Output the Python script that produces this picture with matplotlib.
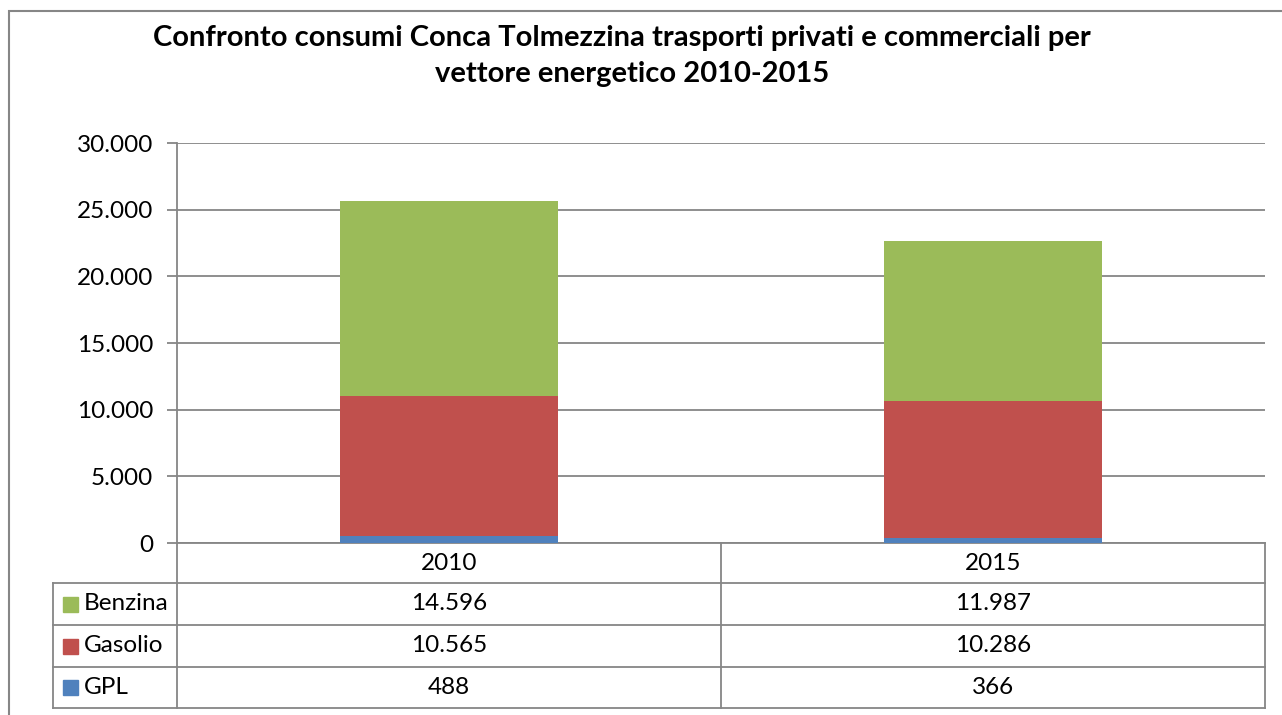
import matplotlib
matplotlib.use("Agg")
import matplotlib.pyplot as plt
from matplotlib.ticker import FuncFormatter
from matplotlib.transforms import blended_transform_factory
from matplotlib.patches import Rectangle

plt.rcParams['font.family'] = ['Lato', 'DejaVu Sans']

# data
years = ["2010", "2015"]
series = ["Benzina", "Gasolio", "GPL"]
gpl = [488, 366]
gasolio = [10565, 10286]
benzina = [14596, 11987]
colors = {"Benzina": "#9BBB59", "Gasolio": "#C0504D", "GPL": "#4F81BD"}
values = {"Benzina": benzina, "Gasolio": gasolio, "GPL": gpl}

W, H = 1282, 715
fig = plt.figure(figsize=(W / 100, H / 100), dpi=100)


def fx(x):
    return x / W


def fy(y):
    return 1 - y / H


# plot area in pixels
left, top, right, bottom = 177, 143, 1265, 543
ax = fig.add_axes([fx(left), fy(bottom), fx(right) - fx(left), fy(top) - fy(bottom)])

gridc = "#868686"
fs = 17.5
x = range(len(years))
ax.bar(x, gpl, width=0.4, color=colors["GPL"], zorder=3)
ax.bar(x, gasolio, width=0.4, bottom=gpl, color=colors["Gasolio"], zorder=3)
ax.bar(x, benzina, width=0.4, bottom=[a + b for a, b in zip(gpl, gasolio)],
       color=colors["Benzina"], zorder=3)

ax.set_xlim(-0.5, len(years) - 0.5)
ax.set_ylim(0, 30000)
ax.set_yticks(range(0, 30001, 5000))
ax.yaxis.set_major_formatter(FuncFormatter(lambda v, p: f"{int(v):,}".replace(",", ".")))
ax.set_xticks([])
ax.grid(axis="y", color=gridc, linewidth=1.3, zorder=0)
for s in ["top", "right"]:
    ax.spines[s].set_visible(False)
ax.spines["left"].set_color(gridc)
ax.spines["left"].set_linewidth(1.3)
ax.spines["bottom"].set_color(gridc)
ax.spines["bottom"].set_linewidth(1.3)
ax.tick_params(axis="y", length=7, width=1.3, color=gridc, labelsize=fs, pad=10)

# data table below the axes
tr = blended_transform_factory(ax.transData, fig.transFigure)
rows_y = [543, 583, 625, 667, 708]
lw = 1.3
for yy in rows_y[1:]:
    fig.add_artist(plt.Line2D([fx(53), fx(right)], [fy(yy), fy(yy)], color=gridc, lw=lw))
fig.add_artist(plt.Line2D([fx(53), fx(53)], [fy(583), fy(708)], color=gridc, lw=lw))
fig.add_artist(plt.Line2D([fx(left), fx(left)], [fy(543), fy(708)], color=gridc, lw=lw))
for xv in [0.5, len(years) - 0.5]:
    fig.add_artist(plt.Line2D([xv, xv], [fy(543), fy(708)], color=gridc, lw=lw, transform=tr))

for i, yr in enumerate(years):
    fig.text(i, fy((543 + 583) / 2), yr, transform=tr, ha="center", va="center", fontsize=fs)

for r, name in enumerate(series):
    yc = (rows_y[r + 1] + rows_y[r + 2]) / 2
    fig.add_artist(Rectangle((fx(63), fy(yc + 7.5)), fx(15), 15 / H, color=colors[name]))
    fig.text(fx(84), fy(yc), name, ha="left", va="center", fontsize=fs)
    for i in range(len(years)):
        fig.text(i, fy(yc), f"{values[name][i]:,}".replace(",", "."), transform=tr,
                 ha="center", va="center", fontsize=fs)

# title
fig.text(fx(622), fy(38), "Confronto consumi Conca Tolmezzina trasporti privati e commerciali per",
         ha="center", va="center", fontsize=21, fontweight="bold")
fig.text(fx(632), fy(74), "vettore energetico 2010-2015",
         ha="center", va="center", fontsize=21, fontweight="bold")

# chart border
fig.add_artist(Rectangle((fx(9), fy(740)), fx(1290 - 9), (740 - 11) / H,
                         fill=False, edgecolor=gridc, lw=1.5))

fig.savefig("out.png", dpi=100)
